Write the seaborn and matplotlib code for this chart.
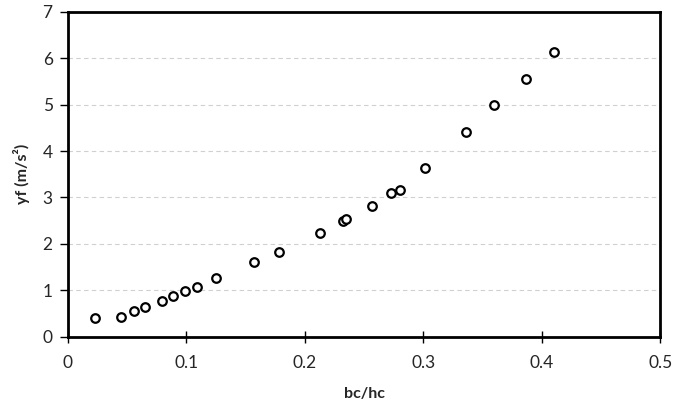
import matplotlib
matplotlib.use('Agg')
import matplotlib.pyplot as plt
import seaborn as sns
import pandas as pd

bc_hc = [0.023, 0.045, 0.056, 0.065, 0.079, 0.089, 0.099, 0.109, 0.125, 0.157,
         0.178, 0.213, 0.232, 0.235, 0.257, 0.273, 0.280, 0.301, 0.336, 0.360,
         0.387, 0.410]
yf = [0.40, 0.43, 0.56, 0.64, 0.77, 0.87, 0.98, 1.07, 1.26, 1.60,
      1.83, 2.23, 2.49, 2.53, 2.81, 3.10, 3.17, 3.64, 4.42, 4.99,
      5.56, 6.14]
x_ticks = [0, 0.1, 0.2, 0.3, 0.4, 0.5]
x_tick_labels = ['0', '0.1', '0.2', '0.3', '0.4', '0.5']
y_ticks = [0, 1, 2, 3, 4, 5, 6, 7]

df = pd.DataFrame({'bc/hc': bc_hc, 'yf': yf})

sns.set_style('white')
plt.rcParams['font.family'] = ['Lato', 'DejaVu Sans']

fig = plt.figure(figsize=(6.73, 4.08), dpi=100)
ax = fig.add_axes([0.101, 0.175, 0.880, 0.796])

sns.scatterplot(data=df, x='bc/hc', y='yf', ax=ax, marker='o', s=38,
                facecolor='white', edgecolor='black', linewidth=1.6, zorder=3)

ax.set_xlim(0, 0.5)
ax.set_ylim(0, 7)
ax.set_xticks(x_ticks)
ax.set_xticklabels(x_tick_labels)
ax.set_yticks(y_ticks)
ax.grid(axis='y', color='#d0d0d0', linestyle=(0, (4, 3)), linewidth=0.8)
ax.grid(axis='x', visible=False)

for s in ax.spines.values():
    s.set_visible(True)
    s.set_color('black')
    s.set_linewidth(2)

ax.tick_params(axis='x', direction='inout', length=8, width=1, labelsize=12.5, pad=9,
               color='black', bottom=True)
ax.tick_params(axis='y', direction='out', length=6, width=1, labelsize=12.5, pad=5,
               color='black', left=True)

ax.set_xlabel('bc/hc', fontsize=11.5, fontweight='bold', labelpad=12)
ax.set_ylabel('yf (m/s²)', fontsize=11.5, fontweight='bold', labelpad=9)

fig.savefig('out.png', dpi=100)
plt.close()
